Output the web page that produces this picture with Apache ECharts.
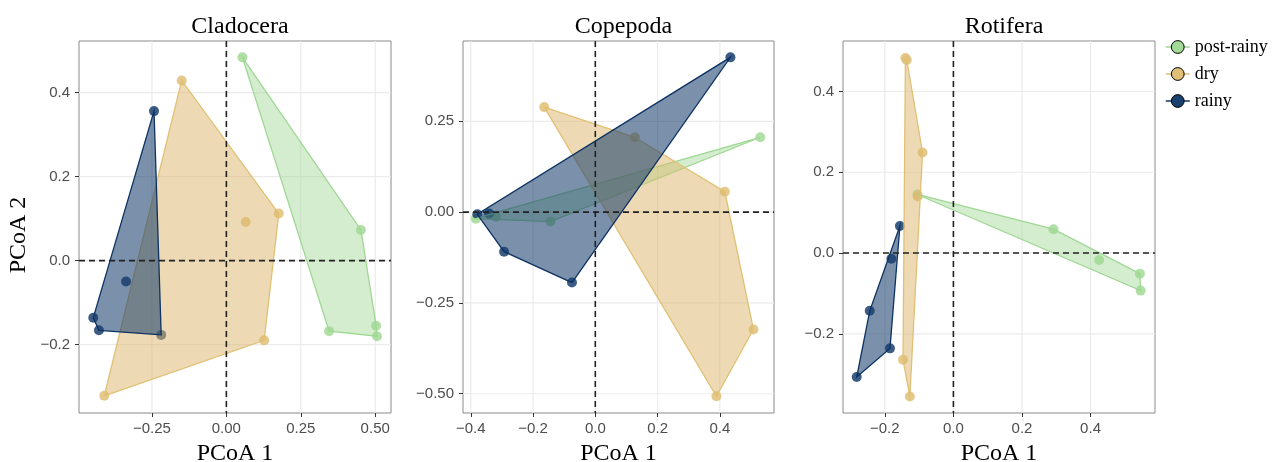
<!DOCTYPE html>
<html>
<head>
<meta charset="utf-8">
<script src="https://cdn.jsdelivr.net/npm/echarts@6/dist/echarts.min.js"></script>
<style>
  html, body { margin: 0; padding: 0; background: #fff; }
  #chart { width: 1279px; height: 462px; }
</style>
</head>
<body>
<div id="chart"></div>
<script>
// group names, in legend order
const groups = ['post-rainy', 'dry', 'rainy']

// Cladocera (PCoA 1, PCoA 2)
const cladoPostRainy = [[0.054, 0.484], [0.452, 0.073], [0.345, -0.168], [0.503, -0.155], [0.506, -0.180]]
const cladoDry = [[-0.150, 0.429], [0.176, 0.112], [0.065, 0.092], [0.127, -0.190], [-0.410, -0.322]]
const cladoRainy = [[-0.243, 0.356], [-0.337, -0.050], [-0.447, -0.136], [-0.428, -0.166], [-0.219, -0.177]]

// Copepoda
const copePostRainy = [[0.530, 0.206], [-0.384, -0.018], [-0.319, -0.013], [-0.144, -0.026], [-0.340, -0.006]]
const copeDry = [[-0.164, 0.289], [0.127, 0.206], [0.416, 0.056], [0.508, -0.323], [0.389, -0.507]]
const copeRainy = [[0.434, 0.426], [-0.379, -0.006], [-0.341, -0.004], [-0.293, -0.109], [-0.075, -0.194]]

// Rotifera
const rotiPostRainy = [[-0.105, 0.145], [0.292, 0.059], [0.425, -0.017], [0.544, -0.051], [0.546, -0.093]]
const rotiDry = [[-0.140, 0.483], [-0.136, 0.478], [-0.090, 0.249], [-0.104, 0.140], [-0.147, -0.264], [-0.127, -0.355]]
const rotiRainy = [[-0.156, 0.067], [-0.181, -0.014], [-0.244, -0.143], [-0.185, -0.236], [-0.282, -0.307]]

// axis ranges and tick labels
const cladoXRange = [-0.495, 0.553]
const cladoYRange = [-0.363, 0.523]
const copeXRange = [-0.425, 0.574]
const copeYRange = [-0.553, 0.471]
const rotiXRange = [-0.322, 0.588]
const rotiYRange = [-0.396, 0.525]

const cladoXTicks = [-0.25, 0, 0.25, 0.5]
const cladoYTicks = [-0.2, 0, 0.2, 0.4]
const copeXTicks = [-0.4, -0.2, 0, 0.2, 0.4]
const copeYTicks = [-0.5, -0.25, 0, 0.25]
const rotiXTicks = [-0.2, 0, 0.2, 0.4]
const rotiYTicks = [-0.2, 0, 0.2, 0.4]

const panels = [
  { title: 'Cladocera', sets: [cladoPostRainy, cladoDry, cladoRainy], xr: cladoXRange, yr: cladoYRange, xt: cladoXTicks, yt: cladoYTicks, xd: 2, yd: 1, left: 79, width: 312 },
  { title: 'Copepoda', sets: [copePostRainy, copeDry, copeRainy], xr: copeXRange, yr: copeYRange, xt: copeXTicks, yt: copeYTicks, xd: 1, yd: 2, left: 463, width: 311 },
  { title: 'Rotifera', sets: [rotiPostRainy, rotiDry, rotiRainy], xr: rotiXRange, yr: rotiYRange, xt: rotiXTicks, yt: rotiYTicks, xd: 1, yd: 1, left: 843, width: 312 }
]

const pointColor = { 'post-rainy': '#a3da98', 'dry': '#e0c077', 'rainy': '#1a406e' }
const strokeColor = { 'post-rainy': '#9fd794', 'dry': '#e1c074', 'rainy': '#0d3263' }
const fillColor = { 'post-rainy': 'rgba(158,216,147,0.45)', 'dry': 'rgba(220,181,106,0.5)', 'rainy': 'rgba(23,61,107,0.57)' }

const TOP = 41
const HEIGHT = 372
const tickFont = { fontFamily: 'Liberation Sans', fontSize: 15, color: '#4d4d4d' }
const serif = 'Liberation Serif'

function convexHull(points) {
  const p = points.slice().sort((a, b) => a[0] - b[0] || a[1] - b[1])
  const cross = (o, a, b) => (a[0] - o[0]) * (b[1] - o[1]) - (a[1] - o[1]) * (b[0] - o[0])
  const lower = []
  for (const q of p) {
    while (lower.length >= 2 && cross(lower[lower.length - 2], lower[lower.length - 1], q) <= 0) lower.pop()
    lower.push(q)
  }
  const upper = []
  for (let i = p.length - 1; i >= 0; i--) {
    const q = p[i]
    while (upper.length >= 2 && cross(upper[upper.length - 2], upper[upper.length - 1], q) <= 0) upper.pop()
    upper.push(q)
  }
  upper.pop(); lower.pop()
  return lower.concat(upper)
}

const fmt = d => v => v.toFixed(d).replace('-', '\u2212')

const grid = [], xAxis = [], yAxis = [], title = [], series = []

panels.forEach((pn, i) => {
  grid.push({ left: pn.left, top: TOP, width: pn.width, height: HEIGHT, outerBoundsMode: 'none', containLabel: false,
    show: true, borderColor: '#8a8a8a', borderWidth: 1, backgroundColor: 'transparent' })
  title.push({ text: pn.title, left: pn.left + pn.width / 2, top: 10, textAlign: 'center',
    textStyle: { fontFamily: serif, fontSize: 24, fontWeight: 'normal', color: '#000' } })
  xAxis.push({
    type: 'value', gridIndex: i, min: pn.xr[0], max: pn.xr[1],
    name: 'PCoA 1', nameLocation: 'middle', nameGap: 29,
    nameTextStyle: { fontFamily: serif, fontSize: 24, color: '#000' },
    axisLine: { show: false, onZero: false }, splitLine: { show: false },
    axisTick: { show: true, length: 4, lineStyle: { color: '#333' }, customValues: pn.xt },
    axisLabel: Object.assign({ customValues: pn.xt, formatter: fmt(pn.xd), margin: 8 }, tickFont)
  })
  yAxis.push({
    type: 'value', gridIndex: i, min: pn.yr[0], max: pn.yr[1],
    name: i === 0 ? 'PCoA 2' : '', nameLocation: 'middle', nameGap: 48, nameRotate: 90,
    nameTextStyle: { fontFamily: serif, fontSize: 24, color: '#000', padding: [0, 16, 0, 0] },
    axisLine: { show: false, onZero: false }, splitLine: { show: false },
    axisTick: { show: true, length: 4, lineStyle: { color: '#333' }, customValues: pn.yt },
    axisLabel: Object.assign({ customValues: pn.yt, formatter: fmt(pn.yd), margin: 9 }, tickFont)
  })

  // grid lines
  series.push({
    type: 'custom', xAxisIndex: i, yAxisIndex: i, silent: true, z: 0,
    data: pn.xt.map(v => [v, 0]),
    renderItem: (params, api) => {
      const cs = params.coordSys
      const x = api.coord([api.value(0), 0])[0]
      return { type: 'line', shape: { x1: x, y1: cs.y, x2: x, y2: cs.y + cs.height }, style: { stroke: '#ebebeb', lineWidth: 1.2 } }
    }
  })
  series.push({
    type: 'custom', xAxisIndex: i, yAxisIndex: i, silent: true, z: 0,
    data: pn.yt.map(v => [0, v]),
    renderItem: (params, api) => {
      const cs = params.coordSys
      const y = api.coord([0, api.value(1)])[1]
      return { type: 'line', shape: { x1: cs.x, y1: y, x2: cs.x + cs.width, y2: y }, style: { stroke: '#ebebeb', lineWidth: 1.2 } }
    }
  })

  // points (line series without visible line, so the legend gets line + circle)
  groups.forEach((g, k) => {
    series.push({
      type: 'line', name: g, xAxisIndex: i, yAxisIndex: i, data: pn.sets[k],
      symbol: 'circle', symbolSize: 10, showSymbol: true, silent: true, z: 2,
      lineStyle: { opacity: 0 },
      itemStyle: { color: pointColor[g], opacity: 0.85 }
    })
  })

  // hulls
  groups.forEach((g, k) => {
    const h = convexHull(pn.sets[k])
    series.push({
      type: 'custom', name: 'hull-' + g, xAxisIndex: i, yAxisIndex: i, silent: true, z: 3 + k,
      data: [h[0]],
      renderItem: (params, api) => ({
        type: 'polygon',
        shape: { points: h.map(p => api.coord(p)) },
        style: { fill: fillColor[g], stroke: strokeColor[g], lineWidth: 1.3 }
      })
    })
  })

  // dashed zero lines
  series.push({
    type: 'custom', xAxisIndex: i, yAxisIndex: i, silent: true, z: 8,
    data: [[0, 0]],
    renderItem: (params, api) => {
      const cs = params.coordSys
      const c = api.coord([0, 0])
      const st = { stroke: '#222', lineWidth: 1.6, lineDash: [6, 4] }
      return { type: 'group', children: [
        { type: 'line', shape: { x1: c[0], y1: cs.y, x2: c[0], y2: cs.y + cs.height }, style: st },
        { type: 'line', shape: { x1: cs.x, y1: c[1], x2: cs.x + cs.width, y2: c[1] }, style: st }
      ] }
    }
  })
})

const chart = echarts.init(document.getElementById('chart'), null, { renderer: 'canvas' })
chart.setOption({
  animation: false,
  backgroundColor: '#fff',
  title: title,
  grid: grid,
  xAxis: xAxis,
  yAxis: yAxis,
  legend: {
    orient: 'vertical', left: 1165, top: 38, itemGap: 9, padding: 0,
    itemWidth: 24, itemHeight: 16,
    textStyle: { fontFamily: serif, fontSize: 18, color: '#000' },
    data: groups.map(g => ({
      name: g,
      itemStyle: { color: pointColor[g], borderColor: '#000', borderWidth: 1, opacity: 1 },
      lineStyle: { color: strokeColor[g], width: 1.5, opacity: 1 }
    }))
  },
  series: series
})
</script>
</body>
</html>
